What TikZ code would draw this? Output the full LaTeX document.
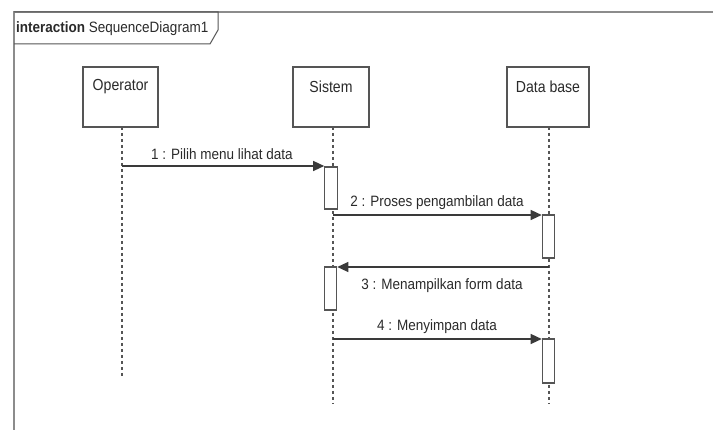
\documentclass[tikz,border=0pt]{standalone}
\usepackage{fontspec}
\setmainfont{Liberation Sans}
\newfontfamily\narrowfont[FakeStretch=0.88]{Liberation Sans}
\newfontfamily\msgfont[FakeStretch=0.9]{Liberation Sans}
\usetikzlibrary{arrows.meta}
\definecolor{framegray}{HTML}{8C8C8C}
\definecolor{boxgray}{HTML}{555555}
\definecolor{linegray}{HTML}{3A3A3A}
\definecolor{textgray}{HTML}{2A2A2A}
\tikzset{
  objbox/.style={draw=boxgray, line width=1.3pt, fill=white, minimum width=#1, minimum height=60pt, inner sep=0pt},
  objlabel/.style={anchor=center, yshift=-20pt, font=\narrowfont\fontsize{16}{16}\selectfont, text=textgray, inner sep=0pt},
  actbar/.style={draw=boxgray, line width=1.1pt, fill=white, minimum width=12.5pt, inner sep=0pt},
  lifeline/.style={draw=boxgray, line width=1.2pt, dash pattern=on 3pt off 3pt},
  msg/.style={draw=linegray, line width=1.3pt, -{Triangle[length=11pt,width=10pt]}},
  msglabel/.style={font=\msgfont\fontsize{15}{15}\selectfont, text=textgray, inner sep=0pt},
  framelabel/.style={font=\msgfont\fontsize{15}{15}\selectfont, text=textgray, inner sep=0pt, anchor=west}
}
\begin{document}
\begin{tikzpicture}[x=1pt, y=-1pt]
\useasboundingbox (0,0) rectangle (713,430);
% frame
\draw[framegray, line width=2pt] (14,430) -- (14,12) -- (713,12);
\draw[boxgray, line width=1pt] (14,12) -- (218,12) -- (218,30) -- (210,44) -- (14,44);
\node[framelabel] (ftitle) at (16,29) {\textbf{interaction} SequenceDiagram1};
% objects
\node[objbox=75pt] (op) at (120.5,97) {};
\node[objlabel] (opl) at (op.north) {Operator};
\node[objbox=76pt] (sis) at (331,97) {};
\node[objlabel] (sisl) at (sis.north) {Sistem};
\node[objbox=82pt] (db) at (548,97) {};
\node[objlabel] (dbl) at (db.north) {Data base};
% lifeline anchors
\coordinate (optop) at (122,127);
\coordinate (opend) at (122,378);
\coordinate (sistop) at (333,127);
\coordinate (sisend) at (333,404);
\coordinate (dbtop) at (549,127);
\coordinate (dbend) at (549,404);
\draw[lifeline] (optop) -- (opend);
\draw[lifeline] (sistop) -- (sisend);
\draw[lifeline] (dbtop) -- (dbend);
% activation bars
\node[actbar, minimum height=42pt] (a1) at (331,188) {};
\node[actbar, minimum height=43pt] (a2) at (548.5,236.5) {};
\node[actbar, minimum height=43pt] (a3) at (330.5,288.5) {};
\node[actbar, minimum height=44pt] (a4) at (548.5,361) {};
% message start points
\coordinate (m1s) at (122,166);
\coordinate (m2s) at (333,215);
\coordinate (m3s) at (549,267);
\coordinate (m4s) at (333,339);
% messages
\draw[msg] (m1s) -- (m1s -| a1.west);
\draw[msg] (m2s) -- (m2s -| a2.west);
\draw[msg] (m3s) -- (m3s -| a3.east);
\draw[msg] (m4s) -- (m4s -| a4.west);
% message labels
\node[msglabel] (l1) at (222,154) {1 : Pilih menu lihat data};
\node[msglabel] (l2) at (437,203) {2 : Proses pengambilan data};
\node[msglabel] (l3) at (442,286) {3 : Menampilkan form data};
\node[msglabel] (l4) at (437,327) {4 : Menyimpan data};
\end{tikzpicture}
\end{document}
